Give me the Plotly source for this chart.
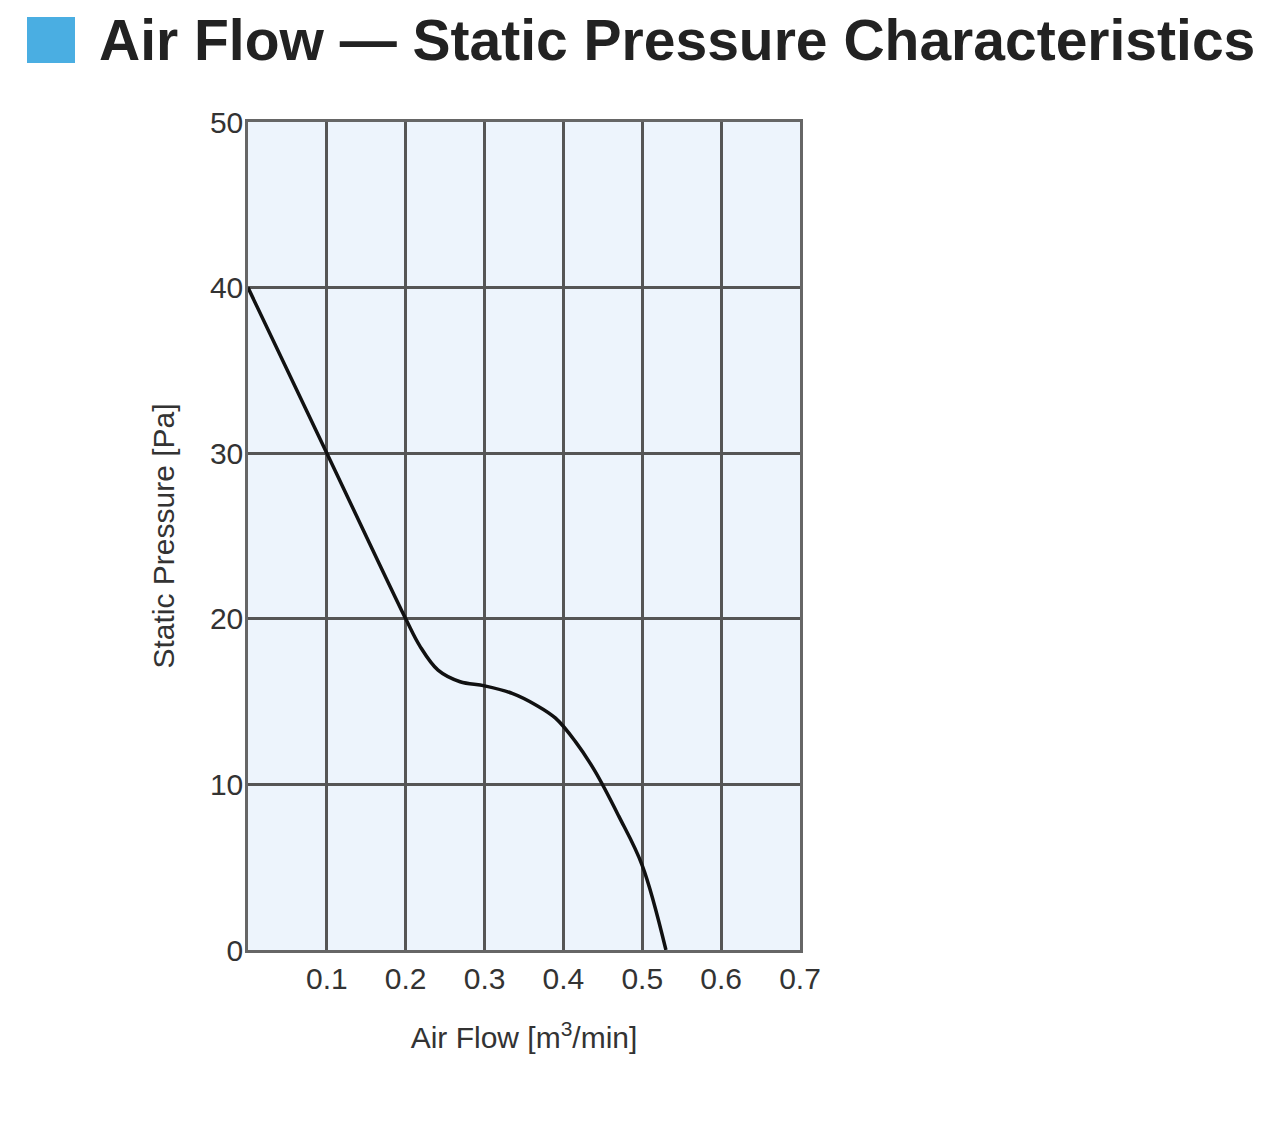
import plotly.graph_objects as go

# curve
air_flow = [0.0, 0.1, 0.2, 0.218, 0.241, 0.269, 0.3, 0.335, 0.365, 0.39, 0.415, 0.44, 0.47, 0.5, 0.53]
static_pressure = [40.0, 30.0, 20.0, 18.35, 16.9, 16.2, 15.95, 15.5, 14.8, 14.0, 12.6, 10.8, 8.1, 5.1, 0.0]

x_ticks = [0.1, 0.2, 0.3, 0.4, 0.5, 0.6, 0.7]
x_tick_text = ["0.1", "0.2", "0.3", "0.4", "0.5", "0.6", "0.7"]
y_ticks = [0, 10, 20, 30, 40, 50]

title_text = "Air Flow — Static Pressure Characteristics"
x_title = "Air Flow [m<sup>3</sup>/min]"
y_title = "Static Pressure [Pa]"

tickFont = dict(family="Liberation Sans, Arial", size=30, color="#333333")
gridColor = "#555555"

fig = go.Figure()
fig.add_trace(go.Scatter(x=air_flow, y=static_pressure, mode="lines",
                         line=dict(color="#111111", width=3.5, shape="spline", smoothing=1.0),
                         showlegend=False, hoverinfo="skip"))

# page has an 8px body margin, so the plot box is shifted back by that
fig.update_layout(width=1280, height=1131,
                  margin=dict(l=240, r=488, t=114, b=189),
                  paper_bgcolor="white", plot_bgcolor="#edf4fc",
                  font=dict(family="Liberation Sans, Arial", color="#333333"))

fig.update_xaxes(range=[0, 0.7], tickvals=x_ticks, ticktext=x_tick_text, tickfont=tickFont,
                 showgrid=True, gridcolor=gridColor, gridwidth=2.5,
                 showline=True, linecolor="#666666", linewidth=2.5, mirror=True,
                 zeroline=False, ticks="", ticklabelstandoff=0,
                 title=dict(text=x_title, font=tickFont, standoff=34))
fig.update_yaxes(range=[0, 50], tickvals=y_ticks, tickfont=tickFont,
                 showgrid=True, gridcolor=gridColor, gridwidth=2.5,
                 showline=True, linecolor="#666666", linewidth=2.5, mirror=True,
                 zeroline=False, ticks="", ticklabelstandoff=-4,
                 title=dict(text=y_title, font=tickFont, standoff=27))

# blue marker square + heading
fig.add_shape(type="rect", xref="paper", yref="paper",
              x0=(27 - 248) / 552, x1=(75 - 248) / 552,
              y0=(950 - 63) / 828, y1=(950 - 17) / 828,
              fillcolor="#4aaee2", line_width=0)
fig.add_annotation(text="<b>" + title_text + "</b>", xref="paper", yref="paper",
                   x=(97 - 248) / 552, y=(950 - 40) / 828, xanchor="left", yanchor="middle",
                   showarrow=False,
                   font=dict(family="Liberation Sans, Arial", size=57, color="#222222"))

fig.write_html("out.html")
